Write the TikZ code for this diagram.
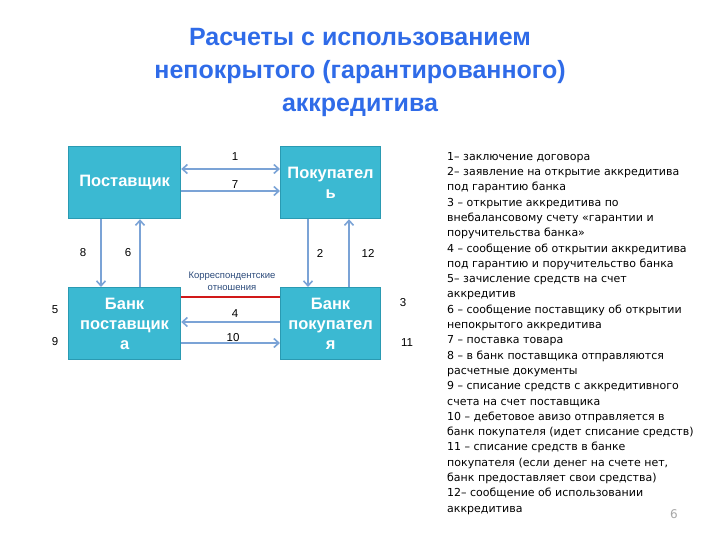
\documentclass[tikz,border=0pt]{standalone}
\usepackage{fontspec}
\setmainfont{DejaVu Sans}
\newfontfamily\tfont{Liberation Sans}
\usetikzlibrary{arrows.meta}
\definecolor{boxc}{HTML}{3BB9D2}
\definecolor{boxb}{HTML}{2A9AB2}
\definecolor{arrc}{HTML}{7BA3D6}
\definecolor{titc}{HTML}{2F6BE8}
\definecolor{corr}{HTML}{2B4A7A}
\begin{document}
\begin{tikzpicture}[x=1pt,y=-1pt,
  party/.style={draw=boxb,line width=1.2pt,fill=boxc,minimum width=112pt,minimum height=72pt,anchor=north west,text=white,font=\tfont\bfseries\fontsize{16.5}{20}\selectfont,align=center,inner sep=0pt},
  partyb/.style={party,minimum width=100pt},
  arr/.style={draw=arrc,line width=1.6pt,-{Straight Barb[length=5pt,width=9pt]}},
  num/.style={font=\tfont\fontsize{11.5}{12}\selectfont},
  lst/.style={anchor=north west,font=\fontsize{11}{15.3}\selectfont,align=left,inner sep=0pt}]
\useasboundingbox (0,0) rectangle (720,540);
\node[font=\tfont\bfseries\fontsize{25}{33}\selectfont,text=titc,align=center] (title) at (360,72) {Расчеты с использованием\\непокрытого (гарантированного)\\аккредитива};
\node[party] (s) at (68,146) {Поставщик};
\node[partyb] (b) at (280,146) {Покупател\\ь};
\node[party] (bs) at (68,287) {Банк\\поставщик\\а};
\node[partyb] (bb) at (280,287) {Банк\\покупател\\я};
% top arrows
\draw[arr,{Straight Barb[length=5pt,width=9pt]}-{Straight Barb[length=5pt,width=9pt]}] (s.east|-0,169) -- (b.west|-0,169);
\draw[arr] (s.east|-0,191) -- (b.west|-0,191);
\node[num] (n1) at (235,157) {1};
\node[num] (n7) at (235,185) {7};
% vertical
\draw[arr] (s.south-|101,0) -- (bs.north-|101,0);
\draw[arr] (bs.north-|140,0) -- (s.south-|140,0);
\draw[arr] (b.south-|308,0) -- (bb.north-|308,0);
\draw[arr] (bb.north-|349,0) -- (b.south-|349,0);
\node[num] (n8) at (83,253) {8};
\node[num] (n6) at (128,253) {6};
\node[num] (n2) at (320,253) {2};
\node[num] (n12) at (368,253) {12};
% bottom
\draw[red!80!black!90,line width=1.2pt] (bs.east|-0,297) -- (bb.west|-0,297);
\node[font=\tfont\fontsize{9.5}{12}\selectfont,text=corr,align=center] (corr) at (232,281) {Корреспондентские\\отношения};
\draw[arr] (bb.west|-0,322) -- (bs.east|-0,322);
\draw[arr] (bs.east|-0,343) -- (bb.west|-0,343);
\node[num] (n4) at (235,314) {4};
\node[num] (n10) at (233,338) {10};
\node[num] (n5) at (55,310) {5};
\node[num] (n9) at (55,342) {9};
\node[num] (n3) at (403,303) {3};
\node[num] (n11) at (407,343) {11};
\node[lst] (list) at (447,152) {1– заключение договора\\2– заявление на открытие аккредитива\\под гарантию банка\\3 – открытие аккредитива по\\внебалансовому счету «гарантии и\\поручительства банка»\\4 – сообщение об открытии аккредитива\\под гарантию и поручительство банка\\5– зачисление средств на счет\\аккредитив\\6 – сообщение поставщику об открытии\\непокрытого аккредитива\\7 – поставка товара\\8 – в банк поставщика отправляются\\расчетные документы\\9 – списание средств с аккредитивного\\счета на счет поставщика\\10 – дебетовое авизо отправляется в\\банк покупателя (идет списание средств)\\11 – списание средств в банке\\покупателя (если денег на счете нет,\\банк предоставляет свои средства)\\12– сообщение об использовании\\аккредитива};
\node[font=\fontsize{12}{12}\selectfont,text=gray!70] (pg) at (674,514) {6};
\end{tikzpicture}
\end{document}
